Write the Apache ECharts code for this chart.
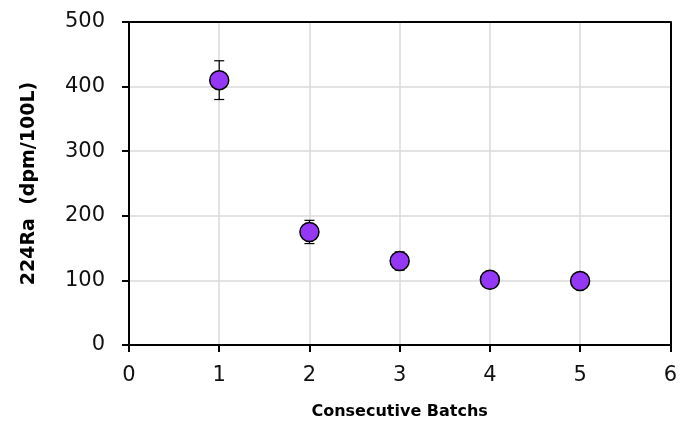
<!DOCTYPE html>
<html>
<head>
<meta charset="utf-8">
<script src="https://cdn.jsdelivr.net/npm/echarts@6/dist/echarts.min.js"></script>
<style>
  html, body { margin: 0; padding: 0; background: #fff; }
  #chart { width: 680px; height: 425px; }
</style>
</head>
<body>
<div id="chart"></div>
<script>
// Ra-224 activity across consecutive batches
const batches = [1, 2, 3, 4, 5];
const ra224 = [410, 175, 130, 101, 99];
const errLow = [380, 157, 116, 101, 99];
const errHigh = [440, 193, 144, 101, 99];
const xTicks = [0, 1, 2, 3, 4, 5, 6];
const yTicks = [0, 100, 200, 300, 400, 500];

const points = batches.map((b, i) => [b, ra224[i]]);
const bars = batches.map((b, i) => [b, errLow[i], errHigh[i]]);

const labelFont = '"DejaVu Sans", sans-serif';
const gridLine = { show: true, lineStyle: { color: '#dadada', width: 1.5, type: 'solid' } };
const blackLine = { color: '#000', width: 2 };

// plain frame axes for the top and right edges of the plot box
const frameAxis = {
  z: 1,
  axisLine: { show: true, onZero: false, lineStyle: blackLine },
  axisTick: { show: false },
  axisLabel: { show: false },
  splitLine: { show: false }
};

const chart = echarts.init(document.getElementById('chart'), null, { renderer: 'canvas' });
chart.setOption({
  animation: false,
  backgroundColor: '#ffffff',
  grid: { left: 129, right: 8, top: 22, bottom: 77, show: false },
  xAxis: [
    {
      type: 'value',
      min: xTicks[0], max: xTicks[xTicks.length - 1], interval: 1,
      name: 'Consecutive Batchs',
      nameLocation: 'middle', nameGap: 59,
      nameTextStyle: { fontFamily: labelFont, fontWeight: 'bold', fontSize: 16, color: '#000' },
      axisLine: { show: true, onZero: false, lineStyle: blackLine },
      axisTick: { show: true, length: 7, lineStyle: blackLine },
      axisLabel: { fontFamily: labelFont, fontSize: 21, color: '#111', margin: 20 },
      splitLine: gridLine
    },
    Object.assign({ type: 'value', position: 'top', min: xTicks[0], max: xTicks[xTicks.length - 1], interval: 1 }, frameAxis)
  ],
  yAxis: [
    {
      type: 'value',
      min: yTicks[0], max: yTicks[yTicks.length - 1], interval: 100,
      name: '224Ra  (dpm/100L)',
      nameLocation: 'middle', nameGap: 90,
      nameTextStyle: { fontFamily: labelFont, fontWeight: 'bold', fontSize: 19, color: '#000' },
      axisLine: { show: true, onZero: false, lineStyle: blackLine },
      axisTick: { show: true, length: 7, lineStyle: blackLine },
      axisLabel: { fontFamily: labelFont, fontSize: 21, color: '#111', margin: 24 },
      splitLine: gridLine
    },
    Object.assign({ type: 'value', position: 'right', min: yTicks[0], max: yTicks[yTicks.length - 1], interval: 100 }, frameAxis)
  ],
  series: [
    {
      type: 'custom',
      z: 2,
      data: bars,
      renderItem: function (params, api) {
        const x = api.value(0);
        const lo = api.coord([x, api.value(1)]);
        const hi = api.coord([x, api.value(2)]);
        const cap = 5;
        const style = { stroke: '#000', lineWidth: 1.2 };
        return {
          type: 'group',
          children: [
            { type: 'line', shape: { x1: lo[0], y1: lo[1], x2: hi[0], y2: hi[1] }, style: style },
            { type: 'line', shape: { x1: hi[0] - cap, y1: hi[1], x2: hi[0] + cap, y2: hi[1] }, style: style },
            { type: 'line', shape: { x1: lo[0] - cap, y1: lo[1], x2: lo[0] + cap, y2: lo[1] }, style: style }
          ]
        };
      }
    },
    {
      type: 'scatter',
      z: 3,
      data: points,
      symbol: 'circle',
      symbolSize: 19,
      itemStyle: { color: '#9438F5', borderColor: '#000', borderWidth: 1.5, opacity: 1 }
    }
  ]
});
</script>
</body>
</html>
